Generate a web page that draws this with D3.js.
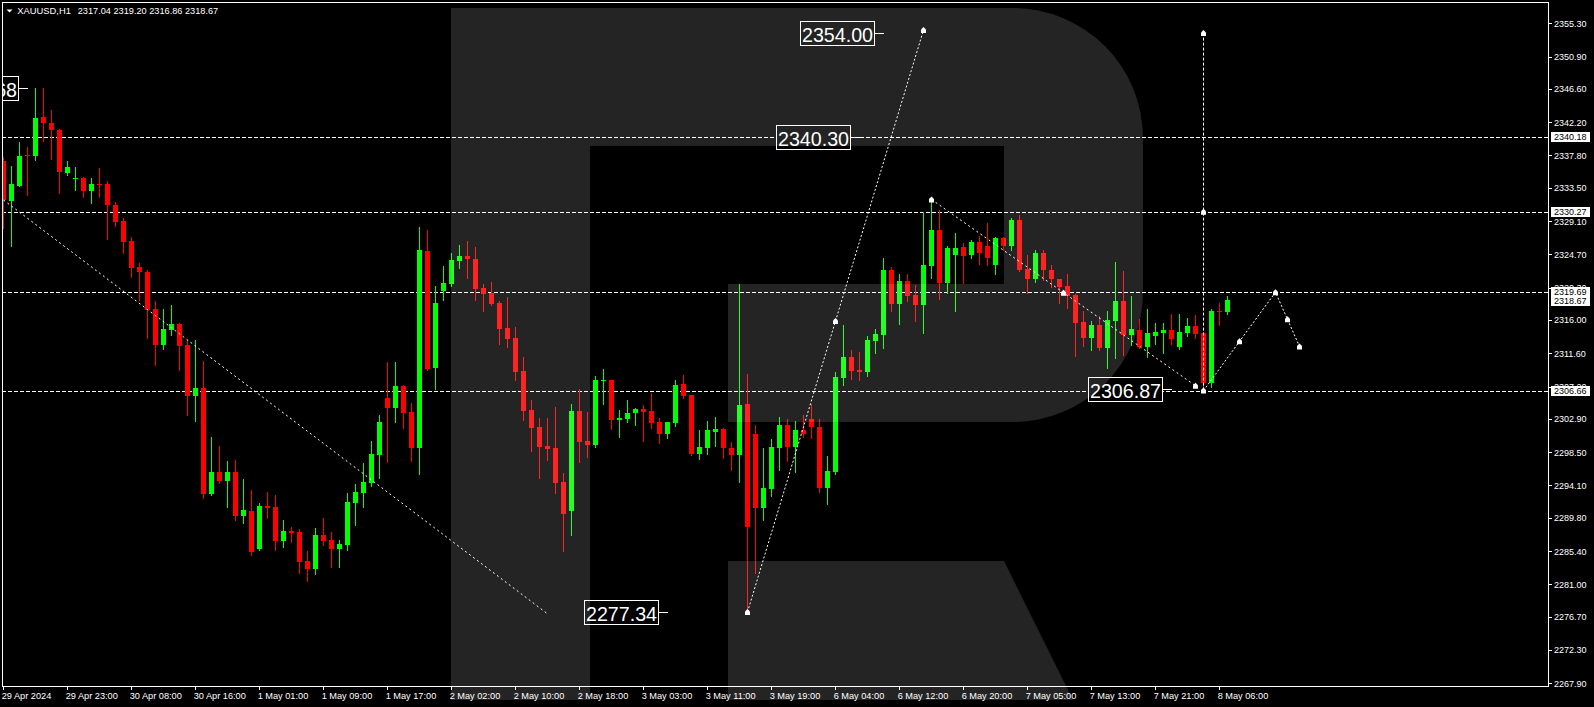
<!DOCTYPE html>
<html><head><meta charset="utf-8">
<script src="https://cdn.jsdelivr.net/npm/d3@7"></script>
<style>html,body{margin:0;padding:0;background:#000;overflow:hidden}svg{display:block}</style>
</head><body><svg id="c" width="1594" height="707"></svg>
<script>
// ---------- data ----------
const symbol = "XAUUSD,H1";
const header = [2317.04, 2319.20, 2316.86, 2318.67];
const opens = [2337.07,2331.77,2333.80,2337.82,2337.73,2342.90,2342.10,2341.17,2335.48,2334.62,
2334.82,2333.10,2334.05,2334.02,2331.24,2329.12,2326.47,2323.03,2322.37,2317.47,
2312.70,2314.69,2315.48,2312.70,2305.95,2307.01,2292.97,2295.88,2294.69,2295.88,
2290.06,2290.72,2285.69,2291.38,2291.25,2286.75,2288.07,2287.94,2284.10,2283.04,
2287.54,2286.88,2285.69,2286.22,2291.78,2293.10,2294.43,2298.13,2305.68,2304.36,
2307.27,2303.83,2299.06,2325.15,2309.66,2319.85,2320.78,2323.83,2324.49,2324.09,
2320.25,2319.59,2318.26,2314.95,2313.63,2309.26,2304.09,2301.84,2299.33,2299.06,
2294.56,2290.72,2303.96,2299.99,2299.46,2307.94,2308.07,2302.77,2302.90,2303.70,
2304.23,2303.96,2302.50,2300.91,2302.37,2307.54,2306.08,2298.27,2299.06,2301.18,
2301.58,2299.06,2298.13,2304.89,2300.91,2291.12,2293.63,2299.06,2302.11,2299.19,
2301.45,2302.90,2301.84,2293.76,2295.88,2308.33,2311.11,2309.39,2309.13,2313.23,
2314.03,2322.63,2318.13,2321.18,2319.32,2318.00,2323.16,2327.93,2320.91,2324.62,
2325.68,2324.62,2326.34,2325.81,2323.30,2326.87,2325.81,2329.26,2322.77,2321.44,
2324.88,2322.63,2321.44,2320.52,2319.32,2315.75,2313.63,2315.35,2312.30,2315.88,
2318.53,2314.03,2314.69,2312.44,2313.89,2314.29,2314.69,2312.44,2314.29,2315.22,
2314.29,2307.67,2317.20,2317.04];
const highs = [2337.60,2336.41,2339.55,2338.92,2346.74,2346.74,2343.82,2341.31,2337.07,2336.27,
2334.95,2334.82,2336.14,2334.42,2331.64,2329.52,2327.00,2323.56,2322.63,2318.53,
2317.47,2318.00,2315.62,2313.36,2313.36,2310.58,2300.52,2299.33,2297.34,2297.47,
2294.96,2293.50,2291.78,2293.24,2292.84,2289.53,2288.60,2288.33,2285.42,2288.47,
2289.79,2287.94,2286.88,2293.10,2294.29,2297.07,2299.99,2303.43,2310.45,2310.45,
2307.40,2305.02,2328.33,2327.93,2320.52,2323.16,2324.88,2325.94,2326.47,2325.68,
2320.78,2321.04,2318.53,2319.06,2315.09,2311.11,2305.42,2303.03,2303.03,2304.49,
2295.75,2304.89,2306.87,2303.83,2308.60,2309.52,2308.10,2304.09,2305.42,2304.36,
2304.76,2306.35,2303.03,2302.55,2308.07,2308.73,2306.10,2301.45,2302.64,2303.17,
2301.71,2299.86,2320.78,2308.86,2302.11,2299.06,2300.25,2303.17,2302.90,2302.64,
2303.43,2304.89,2302.90,2298.00,2309.13,2315.35,2312.04,2311.78,2313.89,2314.82,
2324.22,2323.03,2322.10,2322.10,2320.65,2330.32,2331.97,2330.58,2325.81,2327.53,
2326.21,2326.61,2327.14,2328.86,2327.00,2327.00,2329.52,2329.92,2324.62,2325.28,
2325.28,2323.30,2321.50,2322.10,2319.40,2317.20,2315.88,2316.54,2317.20,2323.69,
2322.50,2319.19,2316.14,2317.47,2315.62,2315.62,2316.81,2316.81,2316.28,2316.67,
2314.42,2317.47,2318.26,2319.20];
const lows = [2328.20,2325.81,2333.70,2332.57,2337.20,2339.72,2337.33,2332.83,2335.21,2333.23,
2332.30,2331.51,2332.30,2326.74,2328.46,2324.88,2321.75,2318.66,2313.56,2310.05,
2312.17,2314.03,2309.39,2303.43,2302.64,2292.44,2292.84,2294.43,2291.25,2289.53,
2289.13,2284.89,2285.60,2289.79,2285.55,2285.95,2286.61,2282.51,2281.45,2282.37,
2286.22,2283.30,2283.30,2285.55,2288.86,2291.25,2294.03,2295.09,2297.21,2302.50,
2301.71,2297.34,2295.62,2309.39,2306.87,2318.66,2320.52,2322.90,2321.57,2318.66,
2317.20,2318.00,2312.83,2312.44,2308.07,2302.77,2298.66,2295.09,2297.47,2293.10,
2285.42,2287.54,2297.21,2297.87,2299.19,2304.89,2301.58,2300.52,2302.50,2302.11,
2299.99,2301.71,2299.72,2300.39,2301.97,2305.68,2298.13,2297.60,2298.27,2299.33,
2297.74,2296.15,2294.56,2277.34,2282.51,2289.53,2292.71,2296.15,2297.34,2295.88,
2300.52,2300.39,2293.23,2291.65,2295.62,2307.40,2308.20,2308.07,2308.60,2311.64,
2312.30,2317.20,2315.48,2318.53,2315.88,2314.29,2321.57,2318.79,2319.59,2317.20,
2320.91,2324.22,2323.43,2323.30,2322.10,2325.28,2325.28,2322.50,2319.59,2321.04,
2321.31,2320.38,2318.26,2317.60,2311.25,2312.57,2312.04,2312.04,2309.66,2310.98,
2311.38,2312.70,2312.30,2311.11,2312.83,2311.64,2312.83,2312.17,2313.89,2313.63,
2306.66,2307.14,2315.35,2316.86];
const closes = [2331.90,2334.02,2337.73,2337.80,2342.76,2342.10,2341.17,2335.61,2336.27,2334.75,
2333.10,2334.02,2334.00,2331.24,2328.99,2326.34,2322.94,2322.37,2317.34,2312.70,
2314.82,2315.48,2312.57,2305.95,2307.01,2292.97,2295.88,2294.69,2295.88,2290.06,
2290.85,2285.29,2291.38,2291.12,2286.75,2288.07,2287.80,2283.97,2283.04,2287.54,
2286.75,2285.69,2286.35,2291.91,2293.24,2294.56,2298.27,2302.50,2304.36,2307.27,
2303.70,2299.06,2325.28,2309.52,2318.26,2320.91,2323.96,2324.49,2324.09,2320.12,
2319.46,2318.13,2314.82,2313.50,2309.13,2303.96,2301.71,2299.19,2298.93,2294.43,
2290.32,2303.96,2299.86,2299.46,2308.07,2308.07,2302.77,2303.03,2303.70,2304.23,
2303.83,2302.37,2300.91,2302.50,2307.40,2305.95,2298.27,2299.19,2301.45,2301.58,
2299.06,2298.13,2304.76,2288.60,2291.12,2293.76,2299.19,2302.11,2299.19,2301.45,
2300.91,2301.84,2293.76,2296.02,2308.46,2311.11,2309.26,2309.13,2313.36,2314.16,
2322.63,2318.13,2321.18,2319.19,2318.00,2323.30,2327.93,2320.91,2325.55,2325.55,
2324.49,2326.34,2324.88,2324.22,2326.87,2325.81,2329.26,2322.63,2321.44,2324.88,
2322.63,2321.44,2320.38,2319.19,2315.62,2313.63,2315.35,2312.30,2316.01,2318.53,
2314.03,2314.82,2312.44,2314.29,2314.42,2314.69,2313.50,2314.42,2315.22,2314.16,
2307.67,2317.20,2317.04,2318.67];
const timeLabels = ["29 Apr 2024","29 Apr 23:00","30 Apr 08:00","30 Apr 16:00","1 May 01:00",
"1 May 09:00","1 May 17:00","2 May 02:00","2 May 10:00","2 May 18:00","3 May 03:00",
"3 May 11:00","3 May 19:00","6 May 04:00","6 May 12:00","6 May 20:00","7 May 05:00",
"7 May 13:00","7 May 21:00","8 May 06:00"];
const priceTicks = [2355.30,2350.90,2346.60,2342.20,2337.80,2333.50,2329.10,2324.70,2320.30,
2316.00,2311.60,2307.20,2302.90,2298.50,2294.10,2289.80,2285.40,2281.00,2276.70,2272.30,2267.90];
const levelLines = [2340.18, 2330.27, 2319.69, 2306.66];
const priceTags = [2340.18, 2330.27, 2319.69, 2318.67, 2306.66];
// trend / forecast lines: [bar index, price]
const trendDown1 = [[0, 2331.90], [68, 2277.10]];
const trendUp = [[93, 2277.34], [115, 2354.40]];
const trendDown2 = [[116, 2331.97], [149, 2307.30]];
const targetLine = [[150, 2306.66], [150, 2354.00]];
const forecast = [[150, 2306.66], [159, 2319.69], [162, 2312.50]];
const markers = [[93,2277.34],[104,2315.87],[115,2354.40],[116,2331.97],[132.5,2319.63],[149,2307.30],
[150,2354.00],[150,2330.33],[150,2306.66],[154.5,2313.18],[159,2319.69],[160.5,2316.10],[162,2312.50]];
// price labels: text, anchor bar, price
const bigLabelText = ["2354.00","2340.30","2306.87","2277.34","2346.68"];
const bigLabelBar = [110, 107, 146, 83, 3];
const bigLabelPrice = [2354.00, 2340.30, 2306.87, 2277.34, 2346.68];

// ---------- drawing ----------
const svg = d3.select("#c");
const W = 1594, H = 707;
const L = 2, T = 2, R = 1548, B = 686;
const FONT = "'Liberation Sans', Arial, sans-serif";
const x = d3.scaleLinear().domain([0, 1]).range([3.5, 11.5]);
const y = d3.scaleLinear().domain([2267.90, 2355.30]).range([683.3, 23.3]);
const py = v => Math.round(y(v)) + 0.5;
const UP = "#00ff00", DN = "#ff0000";

svg.append("rect").attr("width", W).attr("height", H).attr("fill", "#000");
svg.append("clipPath").attr("id", "plot").append("rect")
  .attr("x", L + 1).attr("y", T + 1).attr("width", R - L - 1).attr("height", B - T - 1);

const plot = svg.append("g").attr("clip-path", "url(#plot)");

// level lines
plot.selectAll("line.lvl").data(levelLines).join("line").attr("class", "lvl")
  .attr("x1", L).attr("x2", R).attr("y1", d => py(d)).attr("y2", d => py(d))
  .attr("stroke", "#fff").attr("stroke-width", 1).attr("stroke-dasharray", "4,2")
  .attr("shape-rendering", "crispEdges");

// candles
const bars = d3.range(opens.length).map(i => ({i, o: opens[i], h: highs[i], l: lows[i], c: closes[i]}));
const cg = plot.append("g").attr("shape-rendering", "crispEdges");
cg.selectAll("line.w").data(bars).join("line").attr("class", "w")
  .attr("x1", d => x(d.i)).attr("x2", d => x(d.i))
  .attr("y1", d => Math.round(y(d.h))).attr("y2", d => Math.round(y(d.l)) + 1)
  .attr("stroke", d => d.c >= d.o ? UP : DN).attr("stroke-width", 1);
cg.selectAll("rect.b").data(bars).join("rect").attr("class", "b")
  .attr("x", d => x(d.i) - 2.5).attr("width", 5)
  .attr("y", d => Math.round(y(Math.max(d.o, d.c))))
  .attr("height", d => Math.max(1, Math.round(y(Math.min(d.o, d.c))) - Math.round(y(Math.max(d.o, d.c)))))
  .attr("fill", d => d.c >= d.o ? UP : DN);

// trend lines
const lineGen = d3.line().x(d => x(d[0])).y(d => y(d[1]));
const dotted = [[trendDown1, "2,3"], [trendUp, "2,2"], [trendDown2, "2,3"], [targetLine, "3,2"], [forecast, "2,2"]];
plot.selectAll("path.tr").data(dotted).join("path").attr("class", "tr")
  .attr("d", d => lineGen(d[0])).attr("fill", "none").attr("stroke", "#fff")
  .attr("stroke-width", 1).attr("stroke-dasharray", d => d[1]);

// markers
plot.selectAll("path.mk").data(markers).join("path").attr("class", "mk")
  .attr("transform", d => `translate(${x(d[0])},${y(d[1])})`)
  .attr("d", "M-2.5,3V-0.5L0,-3L2.5,-0.5V3Z").attr("fill", "#fff");

// big price labels
const bl = plot.selectAll("g.bl").data(d3.range(bigLabelText.length)).join("g").attr("class", "bl");
bl.append("line")
  .attr("x1", i => x(bigLabelBar[i]) - 10).attr("x2", i => x(bigLabelBar[i]))
  .attr("y1", i => py(bigLabelPrice[i])).attr("y2", i => py(bigLabelPrice[i]))
  .attr("stroke", "#fff").attr("shape-rendering", "crispEdges");
bl.append("rect")
  .attr("x", i => Math.round(x(bigLabelBar[i]) - 10 - 74) + 0.5)
  .attr("y", i => Math.round(y(bigLabelPrice[i]) - 12) + 0.5)
  .attr("width", 74).attr("height", 24)
  .attr("fill", "#000").attr("stroke", "#fff").attr("shape-rendering", "crispEdges");
bl.append("text")
  .attr("x", i => Math.round(x(bigLabelBar[i]) - 10 - 74) + 2)
  .attr("y", i => Math.round(y(bigLabelPrice[i])) + 8.5)
  .attr("textLength", 71).attr("lengthAdjust", "spacingAndGlyphs")
  .attr("font-family", FONT).attr("font-size", 21).attr("fill", "#fff")
  .text(i => bigLabelText[i]);

// frame
const fr = svg.append("g").attr("stroke", "#fff").attr("shape-rendering", "crispEdges");
fr.append("line").attr("x1", L + 0.5).attr("x2", L + 0.5).attr("y1", T).attr("y2", B + 1);
fr.append("line").attr("x1", L).attr("x2", R + 1).attr("y1", T + 0.5).attr("y2", T + 0.5);
fr.append("line").attr("x1", R + 0.5).attr("x2", R + 0.5).attr("y1", T).attr("y2", B + 1);
fr.append("line").attr("x1", L).attr("x2", R + 1).attr("y1", B + 0.5).attr("y2", B + 0.5);

// price axis
const pa = svg.append("g");
pa.selectAll("line").data(priceTicks).join("line")
  .attr("x1", R + 1).attr("x2", R + 4).attr("y1", d => py(d)).attr("y2", d => py(d))
  .attr("stroke", "#fff").attr("shape-rendering", "crispEdges");
pa.selectAll("text").data(priceTicks).join("text")
  .attr("x", R + 6).attr("y", d => y(d) + 3.4)
  .attr("font-family", FONT).attr("font-size", 9).attr("fill", "#fff")
  .text(d => d.toFixed(2));

// price tags (white boxes)
const tagY = priceTags.map(v => y(v));
for (let k = 1; k < tagY.length; k++) if (tagY[k] - tagY[k - 1] < 10 && tagY[k] > tagY[k-1]) tagY[k] = tagY[k - 1] + 9;
const tg = svg.append("g").selectAll("g").data(priceTags).join("g");
tg.append("rect").attr("x", R + 3).attr("width", 39)
  .attr("y", (d, k) => Math.round(tagY[k]) - 5).attr("height", 10).attr("fill", "#fff");
tg.append("text").attr("x", R + 6).attr("y", (d, k) => Math.round(tagY[k]) + 3.4)
  .attr("font-family", FONT).attr("font-size", 9).attr("fill", "#000")
  .text(d => d.toFixed(2));

// time axis
const tb = timeLabels.map((t, k) => k * 8);
const ta = svg.append("g");
ta.selectAll("line").data(tb).join("line")
  .attr("x1", d => x(d) - 0).attr("x2", d => x(d)).attr("y1", B + 1).attr("y2", B + 4)
  .attr("stroke", "#fff").attr("shape-rendering", "crispEdges");
ta.selectAll("text").data(timeLabels).join("text")
  .attr("x", (d, k) => x(tb[k]) - 1.8).attr("y", 699)
  .attr("font-family", FONT).attr("font-size", 9.2).attr("fill", "#fff")
  .text(d => d);

// header
svg.append("path").attr("d", "M6.5,9.5H12.5L9.5,12.5Z").attr("fill", "#fff");
svg.append("text").attr("x", 17.3).attr("y", 14).attr("font-family", FONT)
  .attr("font-size", 9.4).attr("fill", "#fff").text(symbol);
svg.append("text").attr("x", 77.7).attr("y", 14).attr("font-family", FONT)
  .attr("font-size", 9.2).attr("fill", "#fff").text(header.map(v => v.toFixed(2)).join(" "));

// watermark logo (translucent overlay)
svg.append("path")
  .attr("d", "M451,8H590V700H451Z" +
             "M590,8H1013A130,130 0 0 1 1143,138V292A130,130 0 0 1 1013,422H728V284H1004V146H590Z" +
             "M728,561H1004L1073,700H728Z")
  .attr("fill", "#fff").attr("fill-opacity", 0.141);
</script></body></html>
